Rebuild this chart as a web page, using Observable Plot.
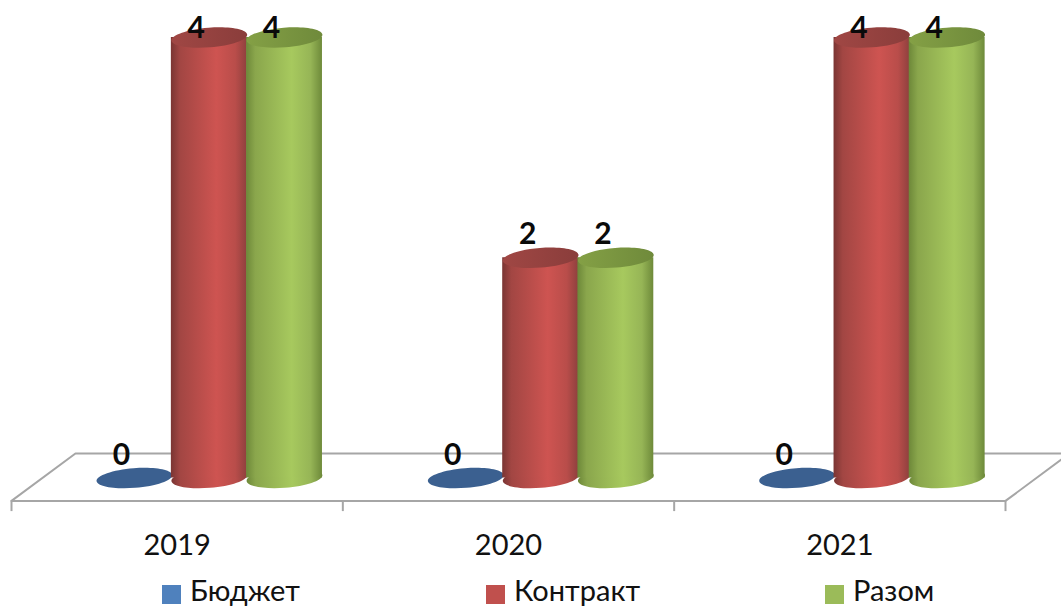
<!DOCTYPE html>
<html>
<head>
<meta charset="utf-8">
<script src="https://cdn.jsdelivr.net/npm/d3@7"></script>
<script src="https://cdn.jsdelivr.net/npm/@observablehq/plot@0.6"></script>
<style>
  html, body { margin: 0; padding: 0; background: #fff; overflow: hidden; }
  #wrap { position: relative; width: 1061px; height: 608px; overflow: hidden; }
  #chart svg { display: block; }
  #legend { position: absolute; left: 0; top: 578px; width: 1061px; height: 30px;
            font: 29px/28px Lato, "Noto Sans", sans-serif; color: #111; }
  .item { position: absolute; top: 0; white-space: nowrap; }
  .swatch { position: absolute; top: 7px; left: 0; width: 19px; height: 19px; }
  .label { position: absolute; left: 28px; top: -2px; }
</style>
</head>
<body>
<div id="wrap">
  <div id="chart"></div>
  <div id="legend"></div>
</div>
<script>
// Data
const years = ["2019", "2020", "2021"];
const seriesNames = ["Бюджет", "Контракт", "Разом"];
const budget = [0, 0, 0];
const contract = [4, 2, 4];
const total = [4, 2, 4];
const seriesValues = [budget, contract, total];
const swatchColors = ["#4f81bd", "#c0504d", "#9bbb59"];
const topColors = ["#3b6090", "#944241", "#7a9340"];
const seriesPos = [0.371, 0.597, 0.824];   // position of a series within a category
const legendLeft = [162, 486, 825];

// Floor of the 3D chart, in axis units
const floorX = [0, 0.193, 3.193, 3, 0];
const floorY = [-0.208, 0.222, 0.222, -0.208, -0.208];
const tickPos = [0, 1, 2, 3];

const rows = seriesNames.flatMap((name, s) =>
  years.map((year, i) => ({
    name, s, year, value: seriesValues[s][i], pos: i + seriesPos[s]
  })));

const halfWidth = 0.1145;

// tilted ellipse used for the ends of the cylinders
const tilt = -4.5 * Math.PI / 180;
const ellipse = {
  draw(ctx, size) {
    const rx = Math.sqrt(size / Math.PI), ry = rx * 0.26, k = 0.5523;
    const c = Math.cos(tilt), s = Math.sin(tilt);
    const P = (x, y) => [x * c - y * s, x * s + y * c];
    const pts = [
      [[rx, -k * ry], [k * rx, -ry], [0, -ry]],
      [[-k * rx, -ry], [-rx, -k * ry], [-rx, 0]],
      [[-rx, k * ry], [-k * rx, ry], [0, ry]],
      [[k * rx, ry], [rx, k * ry], [rx, 0]]
    ];
    ctx.moveTo(...P(rx, 0));
    for (const [a, b, e] of pts) ctx.bezierCurveTo(...P(...a), ...P(...b), ...P(...e));
    ctx.closePath();
  }
};

const seriesMarks = [0, 1, 2].flatMap((s) => {
  const d = rows.filter((r) => r.s === s);
  const fill = s === 0 ? topColors[0] : `url(#cyl${s})`;
  const bars = d.filter((r) => r.value > 0);
  return [
    Plot.dot(s === 0 ? d : bars, {x: "pos", y: () => 0, r: 38, symbol: ellipse, fill, stroke: "none"}),
    Plot.rectY(bars, {x1: (r) => r.pos - halfWidth, x2: (r) => r.pos + halfWidth, y1: () => 0, y2: "value", fill}),
    Plot.dot(bars, {x: "pos", y: "value", r: 38, symbol: ellipse, fill: `url(#top${s})`, stroke: "none"})
  ];
});

const labelStyle = {
  x: "pos", text: (r) => String(r.value), dx: -13, fontWeight: "bold", fontSize: 30,
  fill: "#0a0a0a", fontFamily: "Lato, 'Noto Sans', sans-serif"
};

const plot = Plot.plot({
  width: 1061,
  height: 580,
  marginTop: 0, marginLeft: 0, marginRight: 0, marginBottom: 46,
  style: {background: "#fff", fontFamily: "Lato, 'Noto Sans', sans-serif", color: "#111"},
  x: {domain: [0, 3], range: [11, 1005], axis: null},
  y: {domain: [0, 4], range: [477.5, 37], axis: null},
  marks: [
    Plot.line(floorX.map((x, i) => ({x, y: floorY[i]})), {x: "x", y: "y", stroke: "#a6a6a6", strokeWidth: 2, fill: "#fff", clip: false}),
    Plot.ruleX(tickPos, {y1: () => -0.208, y2: () => -0.305, stroke: "#a6a6a6", strokeWidth: 2}),
    Plot.axisX({ticks: [0.5, 1.5, 2.5], tickFormat: (d) => years[Math.floor(d)], tickSize: 0, tickPadding: 0, fontSize: 29, fill: "#111", lineAnchor: "top", anchor: "bottom"}),
    ...seriesMarks,
    Plot.text(rows.filter((r) => r.s === 0 || r.value < 4), {...labelStyle, y: "value", dy: -23}),
    Plot.text(rows.filter((r) => r.value === 4), {...labelStyle, y: "value", dy: -9})
  ]
});

// Cylinder shading
const ns = "http://www.w3.org/2000/svg";
const defs = document.createElementNS(ns, "defs");
const grad = (id, stops) => {
  const g = document.createElementNS(ns, "linearGradient");
  g.setAttribute("id", id);
  for (const [o, col] of stops) {
    const st = document.createElementNS(ns, "stop");
    st.setAttribute("offset", o);
    st.setAttribute("stop-color", col);
    g.appendChild(st);
  }
  defs.appendChild(g);
};
grad("cyl1", [[0, "#7a3533"], [0.12, "#a24643"], [0.6, "#ce5451"], [0.85, "#b94d4a"], [1, "#8f403e"]]);
grad("cyl2", [[0, "#6d8839"], [0.12, "#8aa64c"], [0.6, "#a7c95e"], [0.85, "#96b556"], [1, "#6e8a3a"]]);
grad("top1", [[0, "#a04744"], [1, "#8a3d3b"]]);
grad("top2", [[0, "#84a045"], [1, "#6f8a3b"]]);
grad("top0", [[0, "#3b6090"], [1, "#3b6090"]]);
plot.insertBefore(defs, plot.firstChild);
document.getElementById("chart").appendChild(plot);

// Legend
const legend = document.getElementById("legend");
seriesNames.forEach((name, i) => {
  const item = document.createElement("div");
  item.className = "item";
  item.style.left = legendLeft[i] + "px";
  const sw = document.createElement("div");
  sw.className = "swatch";
  sw.style.background = swatchColors[i];
  const lb = document.createElement("div");
  lb.className = "label";
  lb.textContent = name;
  item.append(sw, lb);
  legend.appendChild(item);
});
</script>
</body>
</html>
